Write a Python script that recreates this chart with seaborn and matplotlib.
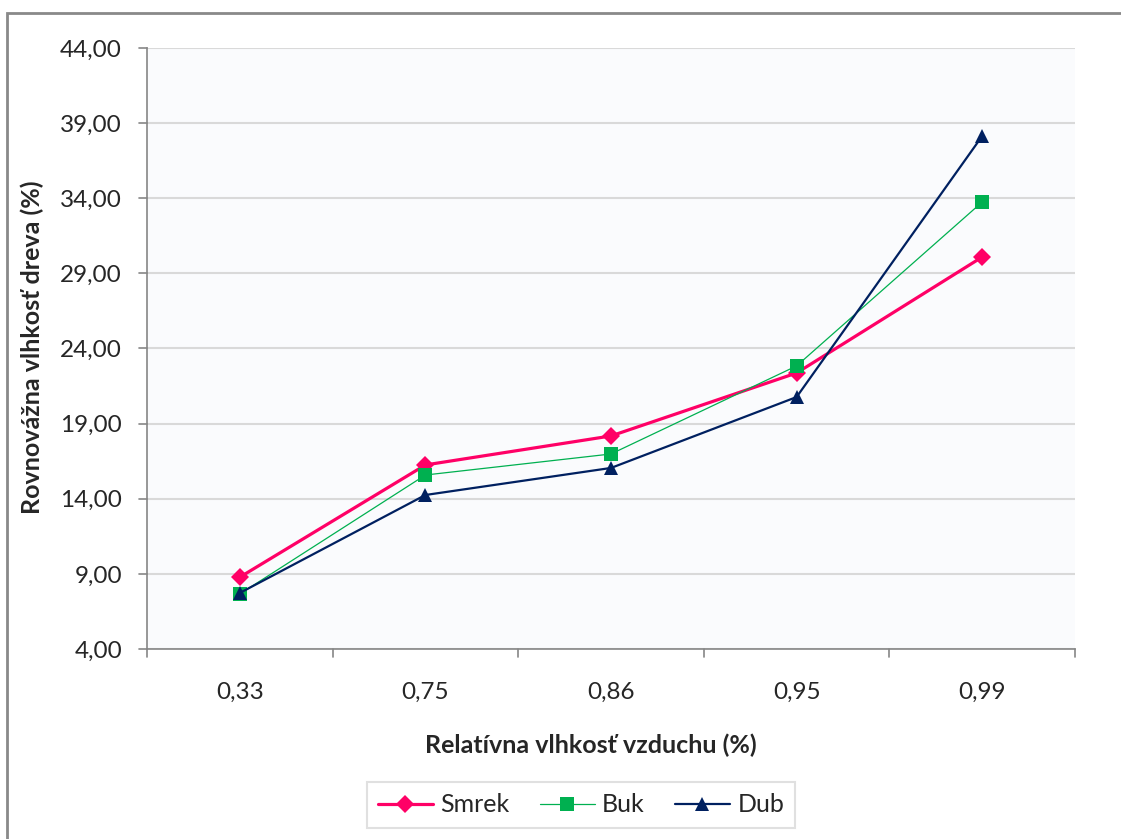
import matplotlib
matplotlib.use("Agg")
import matplotlib.pyplot as plt
from matplotlib.patches import Rectangle
from matplotlib.lines import Line2D
import numpy as np
import pandas as pd
import seaborn as sns

# Relative air humidity categories and equilibrium moisture content per wood species
humidity = ["0,33", "0,75", "0,86", "0,95", "0,99"]
smrek = [8.78, 16.25, 18.18, 22.37, 30.09]
buk = [7.66, 15.58, 16.98, 22.84, 33.75]
dub = [7.73, 14.25, 16.05, 20.77, 38.14]

series_names = ["Smrek", "Buk", "Dub"]
series_values = [smrek, buk, dub]
colors = {"Smrek": "#FF0066", "Buk": "#00B050", "Dub": "#002060"}
markers = {"Smrek": "D", "Buk": "s", "Dub": "^"}
line_widths = {"Smrek": 2.3, "Buk": 0.9, "Dub": 1.6}
marker_sizes = {"Smrek": 9.5, "Buk": 10, "Dub": 10.5}

y_ticks = [4, 9, 14, 19, 24, 29, 34, 39, 44]

sns.set_theme(style="white")
plt.rcParams["font.family"] = ["Lato", "DejaVu Sans"]

df = pd.DataFrame({
    "pos": np.tile(np.arange(len(humidity)), len(series_names)),
    "value": np.concatenate(series_values),
    "series": np.repeat(series_names, len(humidity)),
})

fig = plt.figure(figsize=(11.21, 8.39), dpi=100)
fig.patch.set_facecolor("white")

# Outer chart frame
fig.patches.append(Rectangle((7 / 1121, -0.05), 1.1, 1 - 13 / 839 + 0.05,
                             transform=fig.transFigure, fill=False,
                             edgecolor="#898989", linewidth=2.0, zorder=0))

ax = fig.add_axes([147 / 1121, 1 - 649 / 839, (1075 - 147) / 1121, (649 - 48) / 839])
ax.set_facecolor("#FAFBFD")

for name in series_names:
    sub = df[df["series"] == name]
    sns.lineplot(data=sub, x="pos", y="value", ax=ax, color=colors[name],
                 linewidth=line_widths[name], marker=markers[name],
                 markersize=marker_sizes[name], markeredgecolor=colors[name],
                 markeredgewidth=0, zorder=3, legend=False)

ax.set_xlim(-0.5, len(humidity) - 0.5)
ax.set_ylim(4, 44)
ax.set_yticks(y_ticks)
ax.set_yticklabels([f"{v:.2f}".replace(".", ",") for v in y_ticks], fontsize=17.5)
ax.set_xticks(np.arange(len(humidity)))
ax.set_xticklabels(humidity, fontsize=17.5)
ax.tick_params(axis="x", length=0, pad=24)
ax.tick_params(axis="y", length=0, pad=18)

# Category boundary ticks on the x axis and outward ticks on the y axis
for b in np.arange(-0.5, len(humidity), 1.0):
    ax.plot([b, b], [0, -0.014], transform=ax.get_xaxis_transform(),
            color="#868686", linewidth=1.2, clip_on=False)
for v in y_ticks:
    ax.plot([-0.009, 0], [v, v], transform=ax.get_yaxis_transform(),
            color="#868686", linewidth=1.2, clip_on=False)

ax.grid(axis="y", color="#D9D9D9", linewidth=1.5)
ax.grid(axis="x", visible=False)
ax.set_axisbelow(True)
for side in ["top", "right"]:
    ax.spines[side].set_visible(False)
for side in ["left", "bottom"]:
    ax.spines[side].set_color("#868686")
    ax.spines[side].set_linewidth(1.2)

ax.set_xlabel("Relatívna vlhkosť vzduchu (%)", fontsize=18, fontweight="bold")
ax.xaxis.set_label_coords((591 - 147) / 928, -(745 - 649) / 601, transform=ax.transAxes)
ax.xaxis.label.set_va("center")
ax.set_ylabel("Rovnovážna vlhkosť dreva (%)", fontsize=18, fontweight="bold")
ax.yaxis.set_label_coords(-(147 - 32) / 928, (649 - 347) / 601, transform=ax.transAxes)
ax.yaxis.label.set_va("center")

handles = [Line2D([0], [0], color=colors[n], linewidth=line_widths[n],
                  marker=markers[n], markersize=marker_sizes[n],
                  markeredgewidth=0) for n in series_names]
leg = fig.legend(handles, series_names, loc="center", ncol=3,
                 bbox_to_anchor=(581 / 1121, 1 - 805 / 839), fontsize=18,
                 frameon=True, fancybox=False, handlelength=2.2,
                 columnspacing=1.2, handletextpad=0.3, borderpad=0.45)
leg.get_frame().set_edgecolor("#D9D9D9")
leg.get_frame().set_linewidth(1.5)

fig.savefig("out.png", dpi=100, facecolor="white")
